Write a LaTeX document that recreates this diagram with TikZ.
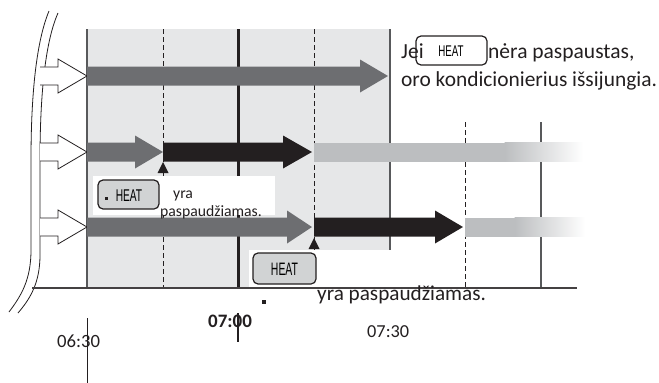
\documentclass[tikz,border=0pt]{standalone}
\usepackage{fontspec}
\usepackage{graphicx}
\setmainfont{Carlito}
\newfontfamily\heatfont{Liberation Sans}
\definecolor{bg}{HTML}{E6E7E8}
\definecolor{dgray}{HTML}{6D6E71}
\definecolor{blk}{HTML}{231F20}
\definecolor{lgray}{HTML}{BCBEC0}
\definecolor{btn}{HTML}{D1D3D4}
\definecolor{linec}{HTML}{58595B}
\newcommand\myarrowbar[5]{%
  \fill[#5] (#1,#4-9.5) -- (#3,#4-9.5) -- (#3,#4-16.5) -- (#2,#4) -- (#3,#4+16.5) -- (#3,#4+9.5) -- (#1,#4+9.5) -- cycle;}
\newcommand\myopenarrow[1]{%
  \draw[blk, line width=0.8pt, fill=white] (40,#1-9) -- (58,#1-9) -- (58,#1-17) -- (87,#1) -- (58,#1+17) -- (58,#1+9) -- (40,#1+9);}
\newcommand\heattxt[2]{{\heatfont\fontsize{#1}{#1}\selectfont\scalebox{#2}[1]{HEAT}}}
\begin{document}
\begin{tikzpicture}[x=1pt,y=-1pt,
  thinline/.style={linec, line width=1.2pt},
  dashline/.style={blk, line width=0.9pt, dash pattern=on 5pt off 3pt},
  btnbox/.style={draw=blk, line width=1.2pt, rounded corners=5pt, inner sep=0pt},
  txt/.style={inner sep=0pt, anchor=base west, text=blk}]
\useasboundingbox (0,0) rectangle (659,383);
% background
\fill[bg] (87,29) rectangle (390,288);
% vertical lines
\draw[thinline] (87,29) -- (87,288);
\draw[thinline] (390,29) -- (390,250);
\draw[thinline] (541,122) -- (541,288);
\draw[dashline] (163,29) -- (163,288);
\draw[dashline] (314,29) -- (314,288);
\draw[dashline] (465,122) -- (465,288);
\draw[blk, line width=3pt] (238,29) -- (238,288);
% left double curve
\draw[blk, line width=0.8pt] (49,11) .. controls (37,40) and (31,90) .. (31,160) -- (31,250) .. controls (31,280) and (21,296) .. (9,312);
\draw[blk, line width=0.8pt] (58,13) .. controls (46,40) and (40,90) .. (40,160) -- (40,255) .. controls (40,283) and (30,299) .. (18,313);
% open arrows
\myopenarrow{76}
\myopenarrow{152}
\myopenarrow{227}
% row 1
\myarrowbar{87}{388}{360}{76}{dgray}
% row 2
\myarrowbar{87}{163}{135}{152}{dgray}
\myarrowbar{163}{312}{283}{152}{blk}
\fill[lgray] (314,142.5) rectangle (505,161.5);
\shade[left color=lgray, right color=white] (504.5,142.5) rectangle (583,161.5);
\fill[blk] (157.5,173) -- (163,162) -- (168.5,173) -- cycle;
% row 3
\myarrowbar{87}{312}{287}{227}{dgray}
\myarrowbar{314}{463}{435}{227}{blk}
\fill[lgray] (465,217.5) rectangle (515,236.5);
\shade[left color=lgray, right color=white] (514.5,217.5) rectangle (585,236.5);
\fill[blk] (308.5,249) -- (314,238) -- (319.5,249) -- cycle;
% white label boxes
\fill[white] (93,176) rectangle (275,215);
\fill[white] (249,250) rectangle (400,288);
% axis
\draw[blk!85, line width=1.3pt] (32,288) -- (577,288);
% buttons
\node[btnbox, fill=btn, minimum width=61pt, minimum height=29pt] (b1) at (128.5,194.5) {};
\fill[blk] (105,197) rectangle (108,200);
\node[inner sep=0pt, anchor=base] (h1) at (129,201) {\heattxt{17}{0.6}};
\node[btnbox, fill=btn, minimum width=63pt, minimum height=31pt] (b2) at (284.5,268.5) {};
\node[inner sep=0pt, anchor=base] (h2) at (284.5,275.5) {\heattxt{18}{0.58}};
\node[btnbox, fill=white, minimum width=71pt, minimum height=29pt] (b3) at (451.5,50.5) {};
\node[inner sep=0pt, anchor=base] (h3) at (451,56.5) {\heattxt{15.5}{0.63}};
% texts
\node[txt, font=\fontsize{21.5}{21.5}\selectfont] (j1) at (401,58) {Jei};
\node[txt, font=\fontsize{21.5}{21.5}\selectfont] (j2) at (488,58) {nėra paspaustas,};
\node[txt, font=\fontsize{21.4}{21.4}\selectfont] (j3) at (401,86) {oro kondicionierius išsijungia.};
\node[txt, font=\fontsize{15.7}{15.7}\selectfont] (y1) at (173,198) {yra};
\node[txt, font=\fontsize{15.7}{15.7}\selectfont] (y2) at (160,216) {paspaudžiamas.};
\node[txt, font=\fontsize{21.2}{21.2}\selectfont] (y3) at (317,300) {yra paspaudžiamas.};
% time axis
\draw[blk, line width=1pt] (87,318) -- (87,383);
\draw[blk, line width=2pt] (238,313) -- (238,342);
\fill[blk] (262,300) rectangle (266,304);
\node[txt, font=\fontsize{18.7}{18.7}\selectfont] (t1) at (57,347) {06:30};
\node[txt, font=\fontsize{19}{19}\selectfont\bfseries] (t2) at (208,327) {07:00};
\node[txt, font=\fontsize{18.3}{18.3}\selectfont] (t3) at (367,337) {07:30};
\end{tikzpicture}
\end{document}
